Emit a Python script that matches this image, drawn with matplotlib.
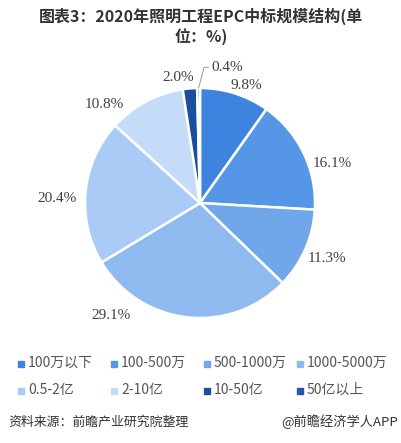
import numpy as np
import matplotlib
matplotlib.use('Agg')
import matplotlib.pyplot as plt
from matplotlib.patches import Rectangle

plt.rcParams['font.family'] = ['Noto Sans CJK SC', 'DejaVu Sans']

# data
categories = ['100万以下', '100-500万', '500-1000万', '1000-5000万',
              '0.5-2亿', '2-10亿', '10-50亿', '50亿以上']
shares = [9.8, 16.1, 11.3, 29.1, 20.4, 10.8, 2.0, 0.4]
colors = ['#3f83e0', '#5596e6', '#70a6ea', '#8ebaf0',
          '#a9cbf5', '#c5dcf8', '#1b4e9c', '#2556a8']

W, H = 402, 443
fig = plt.figure(figsize=(W / 100, H / 100), dpi=100)

# pie axes: centre ~ (200, 203) px, radius ~ 115 px
cx, cy, r = 200, 203, 115
ax = fig.add_axes([(cx - r) / W, (H - cy - r) / H, 2 * r / W, 2 * r / H])
wedges, _ = ax.pie(shares, colors=colors, startangle=90, counterclock=False,
                   wedgeprops=dict(edgecolor='white', linewidth=1.8))
ax.set_xlim(-1, 1)
ax.set_ylim(-1, 1)
ax.set_aspect('equal')

# label placement (angle shift in degrees, radius factor)
label_shift = [-4, -9, 0, -32, 4, 16, 5, 0]
label_rad = [1.10, 1.20, 1.21, 1.25, 1.24, 1.19, 1.11, 1.0]
for i, (w, v) in enumerate(zip(wedges, shares)):
    mid = (w.theta1 + w.theta2) / 2
    txt = f'{v:.1f}%'
    if i == len(shares) - 1:
        a = np.deg2rad(mid)
        ax.annotate(txt, xy=(np.cos(a), np.sin(a)), xytext=(0.1, 1.18),
                    ha='left', va='center', fontsize=11, color='#404040',
                    family='Liberation Serif',
                    arrowprops=dict(arrowstyle='-', color='#999999', lw=0.7,
                                    shrinkA=0, shrinkB=0,
                                    connectionstyle='angle,angleA=0,angleB=75'),
                    annotation_clip=False)
        continue
    a = np.deg2rad(mid + label_shift[i])
    ax.text(label_rad[i] * np.cos(a), label_rad[i] * np.sin(a), txt,
            ha='center', va='center', fontsize=11, color='#404040',
            family='Liberation Serif', clip_on=False)

# title
fig.text(0.5, 1 - 16 / H, '图表3：2020年照明工程EPC中标规模结构(单',
         ha='center', va='center', fontsize=11.5, fontweight='bold', color='#333333')
fig.text(0.5, 1 - 37 / H, '位：%)',
         ha='center', va='center', fontsize=11.5, fontweight='bold', color='#333333')

# legend, 2 rows x 4 columns
for i, (lab, c) in enumerate(zip(categories, colors)):
    row, col = divmod(i, 4)
    x0 = 18 + col * 93
    y0 = 363 + row * 27
    fig.add_artist(Rectangle((x0 / W, 1 - (y0 + 3.5) / H), 6 / W, 6 / H,
                             transform=fig.transFigure, color=c))
    fig.text((x0 + 10) / W, 1 - y0 / H, lab, ha='left', va='center',
             fontsize=10, color='#555555')

# source line
fig.text(8 / W, 1 - 422 / H, '资料来源：前瞻产业研究院整理', ha='left', va='center',
         fontsize=9.3, color='#333333')
fig.text(398 / W, 1 - 422 / H, '@前瞻经济学人APP', ha='right', va='center',
         fontsize=9.5, color='#333333')

fig.savefig('out.png', dpi=100, facecolor='white')
